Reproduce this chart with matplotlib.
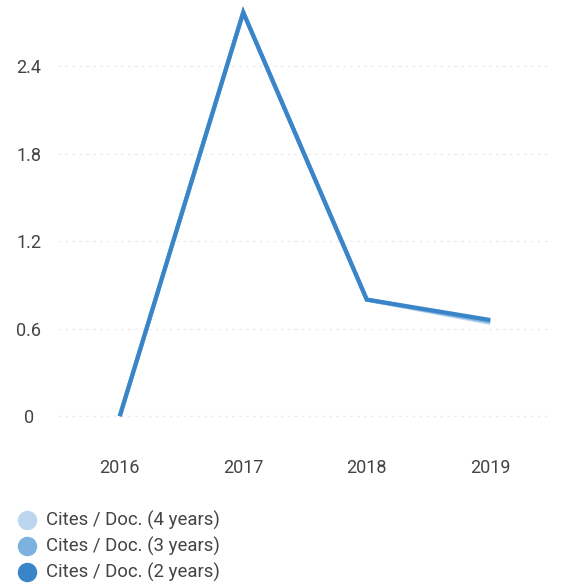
import matplotlib
matplotlib.use("Agg")
import matplotlib.pyplot as plt
from matplotlib.lines import Line2D

plt.rcParams['font.family'] = ['Roboto', 'DejaVu Sans']

# data
years = [2016, 2017, 2018, 2019]
cites_4y = [0.0, 2.77, 0.80, 0.64]
cites_3y = [0.0, 2.77, 0.80, 0.65]
cites_2y = [0.0, 2.77, 0.80, 0.66]
series_labels = ["Cites / Doc. (4 years)", "Cites / Doc. (3 years)", "Cites / Doc. (2 years)"]
series_colors = ["#bcd6ef", "#7db1e0", "#3a85c8"]
y_ticks = [0, 0.6, 1.2, 1.8, 2.4]
y_tick_labels = ["0", "0.6", "1.2", "1.8", "2.4"]

fig = plt.figure(figsize=(5.61, 5.86), dpi=100)
W, H = 561, 586
ax = fig.add_axes([58 / W, 1 - 441 / H, (552 - 58) / W, 441 / H])

for vals, col in zip([cites_4y, cites_3y, cites_2y], series_colors):
    ax.plot(years, vals, color=col, lw=3, solid_capstyle='butt', solid_joinstyle='miter')

ax.set_xlim(2015.5, 2019.5)
ax.set_ylim(-0.17, 2.855)
ax.set_yticks(y_ticks)
ax.set_yticklabels(y_tick_labels)
ax.set_xticks(years)
ax.set_xticklabels([str(y) for y in years])
ax.tick_params(length=0, labelsize=13, labelcolor="#444444")
ax.tick_params(axis='x', pad=13)
ax.tick_params(axis='y', pad=21)
for lab in ax.get_yticklabels():
    lab.set_horizontalalignment('center')
ax.grid(axis='y', color="#ececec", linestyle=(0, (2, 3)), lw=1)
ax.set_axisbelow(True)
for s in ax.spines.values():
    s.set_visible(False)

# legend at the bottom
for i, (lab, col) in enumerate(zip(series_labels, series_colors)):
    yy = 1 - (520 + 26 * i) / H
    fig.add_artist(Line2D([27 / W], [yy], marker='o', markersize=13, color=col,
                          linestyle='none', transform=fig.transFigure))
    fig.text(46 / W, yy, lab, fontsize=13.4, color="#444444", va='center', ha='left')

fig.savefig("out.png", dpi=100)
